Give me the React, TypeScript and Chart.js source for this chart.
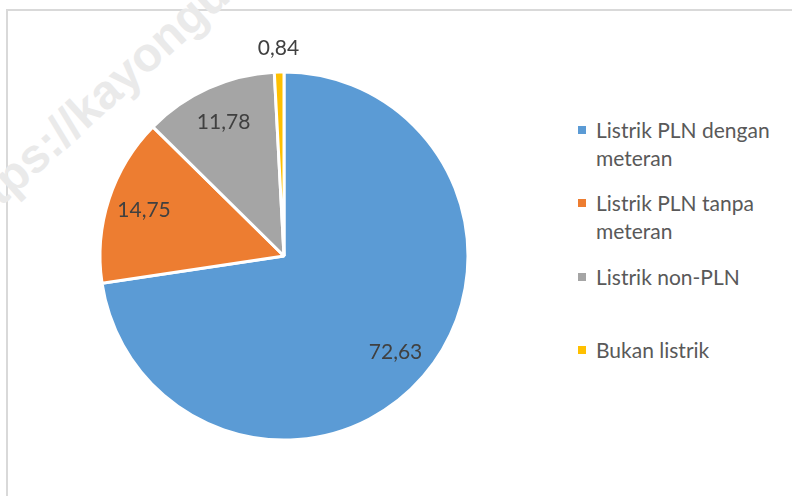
import React, { useEffect, useRef } from "react";
import { Chart, registerables } from "chart.js";

Chart.register(...registerables);

const categories = [
  "Listrik PLN dengan meteran",
  "Listrik PLN tanpa meteran",
  "Listrik non-PLN",
  "Bukan listrik",
];
const values = [72.63, 14.75, 11.78, 0.84];
const valueLabels = ["72,63", "14,75", "11,78", "0,84"];
const colors = ["#5B9BD5", "#ED7D31", "#A5A5A5", "#FFC000"];

const FONT = "Lato, 'Noto Sans', sans-serif";

const labelPlugin = {
  id: "sliceLabels",
  afterDatasetsDraw(chart: any) {
    const ctx = chart.ctx;
    const meta = chart.getDatasetMeta(0);
    ctx.save();
    ctx.font = `21px ${FONT}`;
    ctx.fillStyle = "#404040";
    ctx.textAlign = "center";
    ctx.textBaseline = "middle";
    meta.data.forEach((arc: any, i: number) => {
      const p = arc.getProps(["x", "y", "startAngle", "endAngle", "outerRadius"], true);
      const mid = (p.startAngle + p.endAngle) / 2;
      const outside = p.endAngle - p.startAngle < 0.2;
      const r = outside ? p.outerRadius + 24 : p.outerRadius * 0.8;
      ctx.fillText(valueLabels[i], p.x + Math.cos(mid) * r, p.y + Math.sin(mid) * r);
    });
    ctx.restore();
  },
};

export default function App() {
  const ref = useRef<HTMLCanvasElement>(null);
  useEffect(() => {
    if (!ref.current) return;
    const chart = new Chart(ref.current, {
      type: "pie",
      data: {
        labels: categories,
        datasets: [
          {
            data: values,
            backgroundColor: colors,
            borderColor: "#ffffff",
            borderWidth: 3,
          },
        ],
      },
      options: {
        responsive: false,
        animation: false,
        devicePixelRatio: 1,
        layout: { padding: { top: 70.5, bottom: 54.5, left: 98.5, right: 98.5 } },
        plugins: {
          legend: { display: false },
          tooltip: { enabled: false },
        },
      },
      plugins: [labelPlugin],
    });
    return () => chart.destroy();
  }, []);

  return (
    <div
      style={{
        position: "fixed",
        left: 0,
        top: 0,
        width: 792,
        height: 496,
        overflow: "hidden",
        background: "#ffffff",
        fontFamily: FONT,
      }}
    >
      <div
        style={{
          position: "absolute",
          left: 6,
          top: 9,
          width: 900,
          height: 700,
          borderTop: "2px solid #d9d9d9",
          borderLeft: "2px solid #d9d9d9",
        }}
      />
      <div
        style={{
          position: "absolute",
          left: -44,
          top: 202,
          lineHeight: "48px",
          transformOrigin: "0 50%",
          transform: "rotate(-42deg)",
          fontSize: 48,
          fontWeight: 700,
          color: "#eaeaea",
          whiteSpace: "nowrap",
          fontFamily: "'Liberation Sans', Arial, sans-serif",
        }}
      >
        https://kayongue
      </div>
      <canvas
        ref={ref}
        width={568}
        height={496}
        style={{ position: "absolute", left: 0, top: 0, width: 568, height: 496 }}
      />
      {categories.map((c, i) => (
        <div
          key={c}
          style={{
            position: "absolute",
            left: 578,
            top: 116 + i * 73.3,
            width: 210,
          }}
        >
          <div
            style={{
              position: "absolute",
              left: 0,
              top: 10,
              width: 8,
              height: 8,
              background: colors[i],
            }}
          />
          <div
            style={{
              position: "absolute",
              left: 18,
              top: 0,
              width: 192,
              fontSize: 21,
              lineHeight: "28px",
              color: "#595959",
            }}
          >
            {c}
          </div>
        </div>
      ))}
    </div>
  );
}
